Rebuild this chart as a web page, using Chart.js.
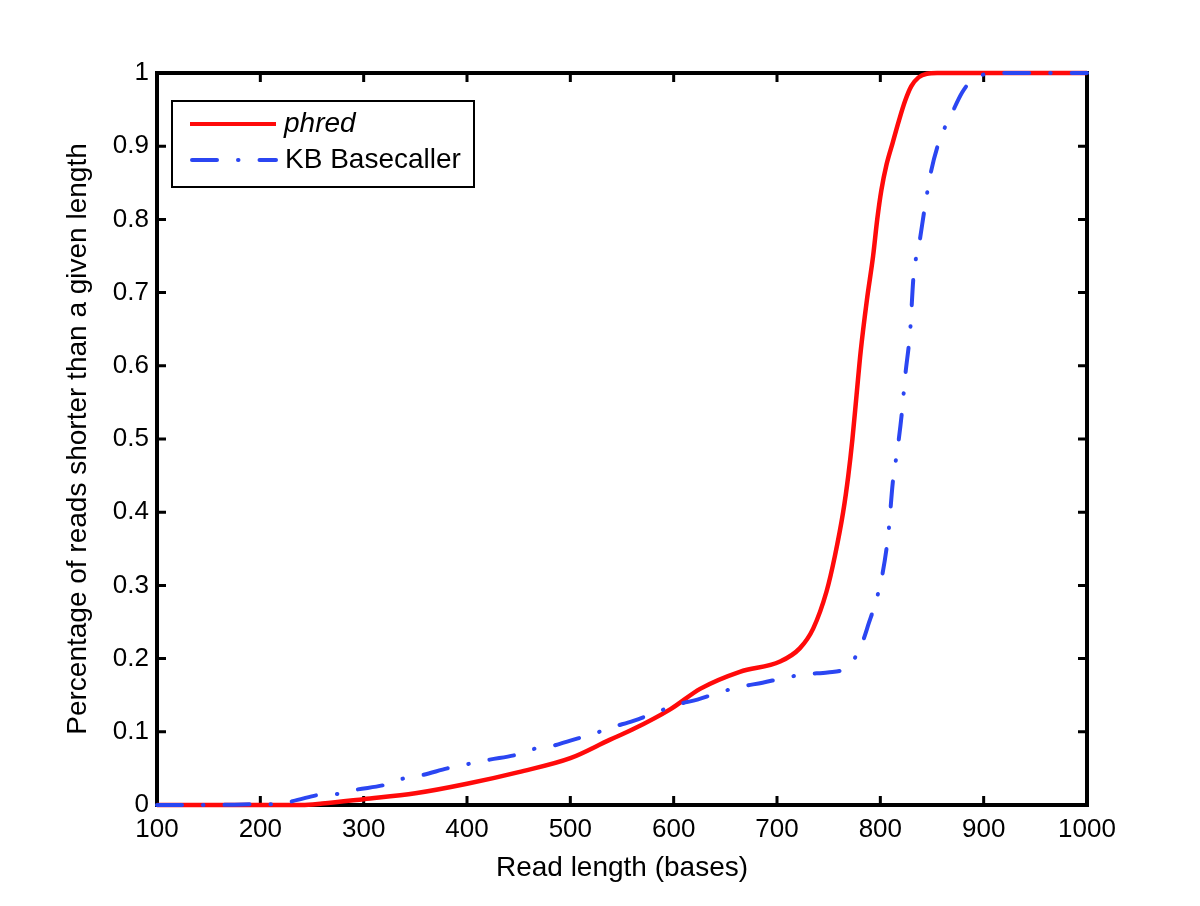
<!DOCTYPE html>
<html>
<head>
<meta charset="utf-8">
<script src="https://cdn.jsdelivr.net/npm/chart.js@4"></script>
<style>
  html, body { margin: 0; padding: 0; background: #fff; }
  #wrap { width: 1200px; height: 906px; }
</style>
</head>
<body>
<div id="wrap"><canvas id="readChart" width="1200" height="906"></canvas></div>
<script>
// Dados (comprimento da leitura, fração acumulada)
const phredLength = [100, 150, 200, 240, 260, 300, 350, 400, 450, 500, 538, 560, 597, 626, 664, 703, 722, 735, 748, 756, 764, 769, 773, 777, 781, 787, 793, 797, 801, 806, 812, 818, 824, 830, 837, 845, 855, 1000];
const phredFrac   = [0, 0, 0, 0, 0.002, 0.008, 0.016, 0.029, 0.045, 0.064, 0.089, 0.103, 0.131, 0.159, 0.182, 0.196, 0.214, 0.241, 0.292, 0.34, 0.40, 0.45, 0.5, 0.56, 0.62, 0.69, 0.75, 0.80, 0.84, 0.875, 0.905, 0.935, 0.962, 0.982, 0.994, 0.999, 1, 1];

const kbLength = [100, 150, 200, 216, 236, 258, 274, 293, 319, 338, 357, 381, 401, 422, 446, 466, 478, 500, 522, 540, 561, 584, 603, 623, 647, 666, 686, 705, 729, 749, 769, 782, 789, 795, 802, 808, 812, 817, 821, 824, 829, 832, 838, 843, 849, 858, 867, 879, 887, 900, 910, 1000];
const kbFrac   = [0, 0, 0.001, 0.001, 0.007, 0.014, 0.015, 0.021, 0.027, 0.036, 0.041, 0.05, 0.056, 0.062, 0.068, 0.077, 0.079, 0.088, 0.097, 0.106, 0.115, 0.127, 0.137, 0.144, 0.155, 0.162, 0.167, 0.173, 0.179, 0.181, 0.189, 0.22, 0.249, 0.275, 0.315, 0.374, 0.44, 0.49, 0.538, 0.585, 0.65, 0.72, 0.77, 0.816, 0.865, 0.911, 0.938, 0.973, 0.988, 0.998, 1, 1];

const xTicks = [100, 200, 300, 400, 500, 600, 700, 800, 900, 1000];
const yTicks = [0, 0.1, 0.2, 0.3, 0.4, 0.5, 0.6, 0.7, 0.8, 0.9, 1];

const seriesNames = ['phred', 'KB Basecaller'];
const RED = '#ff0a0a';
const BLUE = '#2b46f2';
const DASH_DOT = [25, 21, 0.5, 21];

function toPoints(xs, ys) {
    return xs.map((x, i) => ({ x: x, y: ys[i] }));
}

// Moldura preta e marcas para dentro (estilo MATLAB)
const framePlugin = {
    id: 'frame',
    beforeDatasetsDraw(chart) {
        const { ctx, chartArea: a, scales } = chart;
        ctx.save();
        ctx.strokeStyle = '#000';
        ctx.lineWidth = 3;
        ctx.beginPath();
        xTicks.forEach(v => {
            const px = scales.x.getPixelForValue(v);
            ctx.moveTo(px, a.bottom); ctx.lineTo(px, a.bottom - 9);
            ctx.moveTo(px, a.top); ctx.lineTo(px, a.top + 9);
        });
        yTicks.forEach(v => {
            const py = scales.y.getPixelForValue(v);
            ctx.moveTo(a.left, py); ctx.lineTo(a.left + 9, py);
            ctx.moveTo(a.right, py); ctx.lineTo(a.right - 9, py);
        });
        ctx.stroke();
        ctx.lineWidth = 4;
        ctx.strokeRect(a.left, a.top, a.right - a.left, a.bottom - a.top);
        ctx.restore();
    }
};

// Legenda desenhada à mão, caixa no canto superior esquerdo
const legendPlugin = {
    id: 'boxLegend',
    afterDatasetsDraw(chart) {
        const ctx = chart.ctx;
        const bx = 172, by = 101, bw = 302, bh = 86;
        ctx.save();
        ctx.fillStyle = '#fff';
        ctx.fillRect(bx, by, bw, bh);
        ctx.strokeStyle = '#000';
        ctx.lineWidth = 2;
        ctx.strokeRect(bx, by, bw, bh);

        ctx.lineWidth = 4;
        ctx.strokeStyle = RED;
        ctx.beginPath(); ctx.moveTo(190, 124); ctx.lineTo(276, 124); ctx.stroke();

        ctx.strokeStyle = BLUE;
        ctx.lineCap = 'round';
        ctx.setLineDash(DASH_DOT);
        ctx.lineDashOffset = 0;
        ctx.beginPath(); ctx.moveTo(192, 160); ctx.lineTo(276, 160); ctx.stroke();
        ctx.setLineDash([]);

        ctx.fillStyle = '#000';
        ctx.textBaseline = 'middle';
        ctx.textAlign = 'left';
        ctx.font = 'italic 28px "Liberation Sans", Arial, sans-serif';
        ctx.fillText(seriesNames[0], 284, 124);
        ctx.font = '28px "Liberation Sans", Arial, sans-serif';
        ctx.fillText(seriesNames[1], 285, 160);
        ctx.restore();
    }
};

const tickFont = { family: '"Liberation Sans", Arial, sans-serif', size: 26 };
const titleFont = { family: '"Liberation Sans", Arial, sans-serif', size: 28 };

const chart = new Chart(document.getElementById('readChart').getContext('2d'), {
    type: 'line',
    data: {
        datasets: [
            {
                label: seriesNames[1],
                data: toPoints(kbLength, kbFrac),
                borderColor: BLUE,
                borderWidth: 4,
                borderDash: DASH_DOT,
                borderCapStyle: 'round',
                cubicInterpolationMode: 'monotone',
                pointRadius: 0,
                clip: false
            },
            {
                label: seriesNames[0],
                data: toPoints(phredLength, phredFrac),
                borderColor: RED,
                borderWidth: 4.5,
                cubicInterpolationMode: 'monotone',
                pointRadius: 0,
                clip: false
            }
        ]
    },
    plugins: [framePlugin, legendPlugin],
    options: {
        responsive: false,
        animation: false,
        layout: { padding: { left: 0, top: 73, right: 113, bottom: 0 } },
        plugins: { legend: { display: false }, tooltip: { enabled: false } },
        scales: {
            x: {
                type: 'linear',
                min: 100,
                max: 1000,
                afterFit: s => { s.height = 101; },
                afterBuildTicks: s => { s.ticks = xTicks.map(v => ({ value: v })); },
                grid: { display: false, drawTicks: false },
                border: { display: false },
                ticks: { color: '#000', font: tickFont, padding: 9, maxRotation: 0, callback: v => String(v) },
                title: {
                    display: true,
                    text: 'Read length (bases)',
                    color: '#000',
                    font: titleFont,
                    padding: { top: 0, bottom: 21 }
                }
            },
            y: {
                type: 'linear',
                min: 0,
                max: 1,
                afterFit: s => { s.width = 157; },
                afterBuildTicks: s => { s.ticks = yTicks.map(v => ({ value: v })); },
                grid: { display: false, drawTicks: false },
                border: { display: false },
                ticks: { color: '#000', font: tickFont, padding: 8, callback: v => String(Math.round(v * 10) / 10) },
                title: {
                    display: true,
                    text: 'Percentage of reads shorter than a given length',
                    color: '#000',
                    font: titleFont,
                    padding: { top: 61, bottom: 0 }
                }
            }
        }
    }
});
</script>
</body>
</html>
